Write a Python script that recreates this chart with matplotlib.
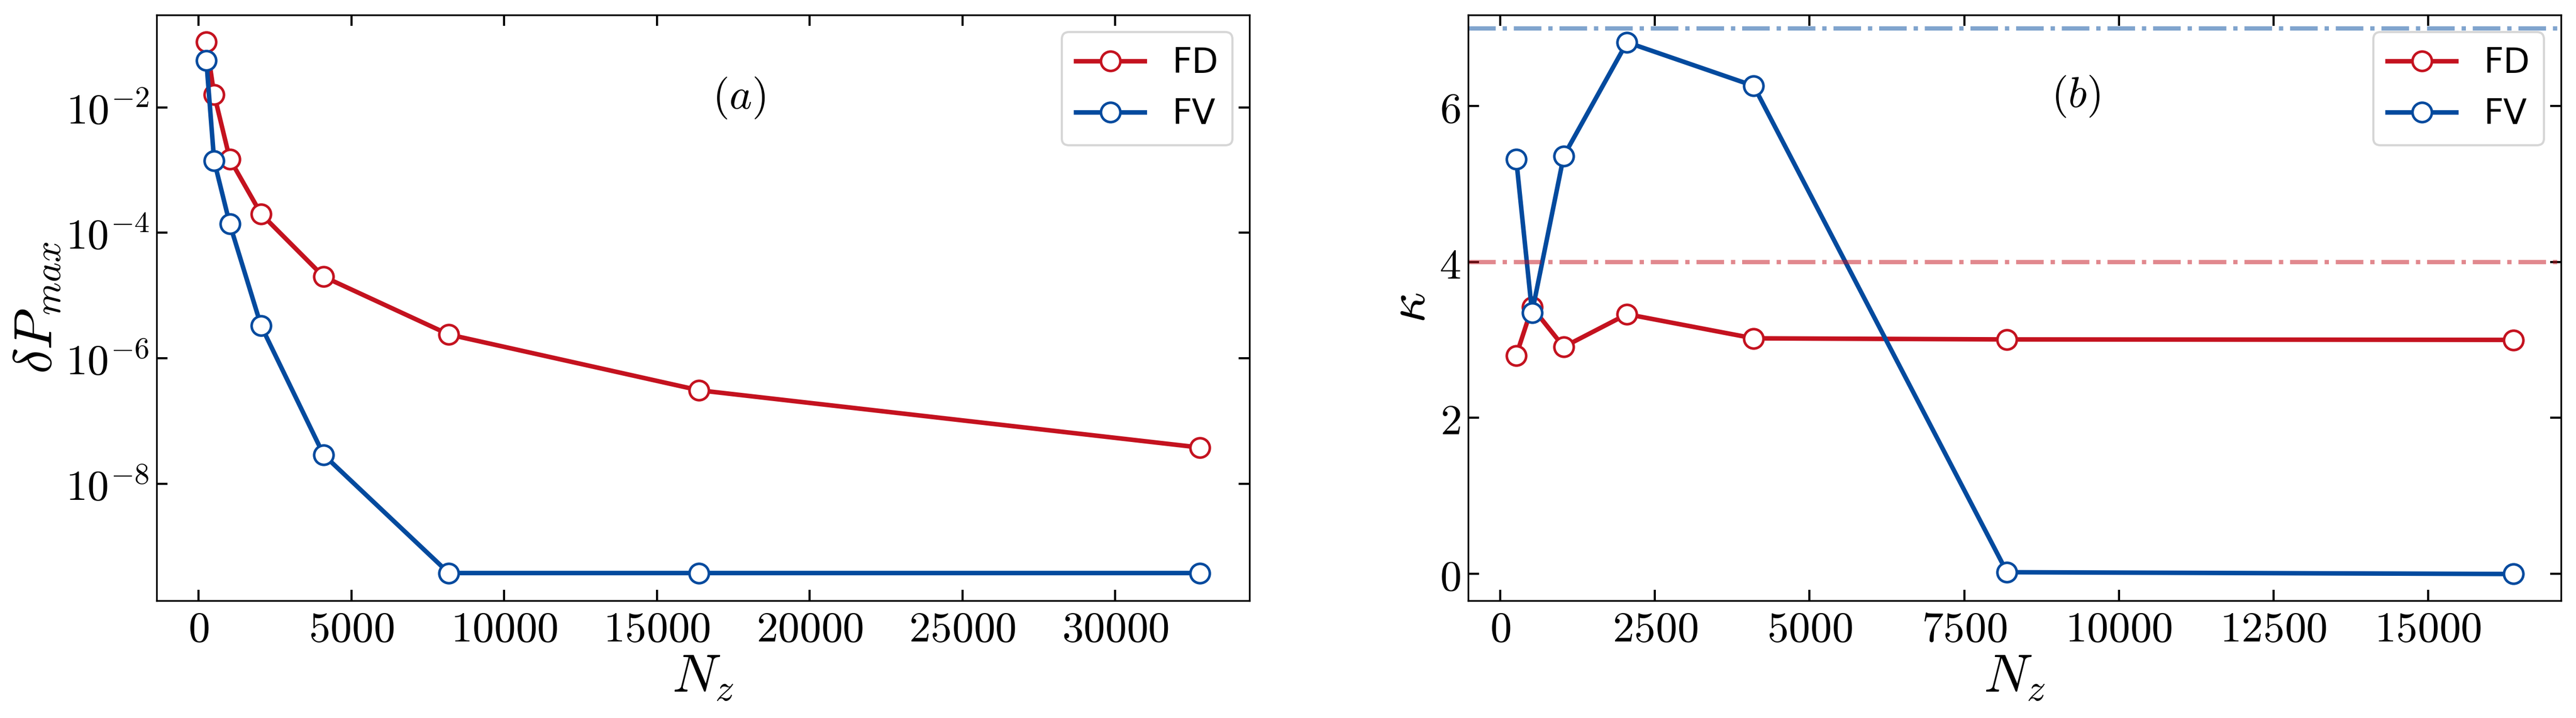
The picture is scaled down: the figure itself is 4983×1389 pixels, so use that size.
import matplotlib
matplotlib.use("Agg")
import matplotlib.pyplot as plt
from matplotlib.ticker import FuncFormatter, LogLocator, NullLocator, MultipleLocator
import numpy as np

plt.rcParams['mathtext.fontset'] = 'cm'

# ---- data ----
nz_a = [256, 512, 1024, 2048, 4096, 8192, 16384, 32768]
dp_fd = [0.11, 0.016, 1.5e-3, 2.0e-4, 2.0e-5, 2.4e-6, 3.1e-7, 3.8e-8]
dp_fv = [0.056, 1.4e-3, 1.38e-4, 3.3e-6, 2.9e-8, 3.8e-10, 3.8e-10, 3.8e-10]

nz_b = [256, 512, 1024, 2048, 4096, 8192, 16384]
k_fd = [2.80, 3.42, 2.91, 3.33, 3.02, 3.006, 3.00]
k_fv = [5.32, 3.35, 5.36, 6.82, 6.26, 0.018, -0.005]
k_ref_fd = 4.0
k_ref_fv = 7.0

RED = '#C4121F'
BLUE = '#034A9E'

fig = plt.figure(figsize=(4983/300, 1389/300), dpi=300)
ax1 = fig.add_axes([303/4983, 1 - 1162/1389, 2114/4983, 1133/1389])
ax2 = fig.add_axes([2840/4983, 1 - 1162/1389, 2114/4983, 1133/1389])

mk = dict(marker='o', markersize=9, markerfacecolor='white', markeredgewidth=1.2, lw=2.1)

ax1.plot(nz_a, dp_fd, color=RED, label=r'FD', **mk)
ax1.plot(nz_a, dp_fv, color=BLUE, label=r'FV', **mk)
ax1.set_yscale('log')
ax1.yaxis.set_major_locator(LogLocator(base=100.0))
ax1.yaxis.set_minor_locator(NullLocator())
ax1.yaxis.set_major_formatter(FuncFormatter(lambda v, p: r'$10^{%d}$' % int(round(np.log10(v)))))
ax1.set_ylim(10**-9.86, 10**-0.53)
ax1.set_xlim(-1370, 34394)
ax1.xaxis.set_major_locator(MultipleLocator(5000))
ax1.set_xlabel(r'$N_z$', fontsize=25)
ax1.set_ylabel(r'$\delta P_{max}$', fontsize=25)
ax1.xaxis.set_label_coords(0.5, -0.131)
ax1.yaxis.set_label_coords(-0.109, 0.5)
ax1.xaxis.label.set_va('center')
ax1.yaxis.label.set_va('center')
ax1.text(0.533, 0.858, r'$(a)$', transform=ax1.transAxes, fontsize=20, ha='center', va='center')

ax2.plot(nz_b, k_fd, color=RED, label=r'FD', **mk)
ax2.plot(nz_b, k_fv, color=BLUE, label=r'FV', **mk)
ax2.axhline(k_ref_fd, color=RED, alpha=0.5, lw=2, ls='-.')
ax2.axhline(k_ref_fv, color=BLUE, alpha=0.5, lw=2, ls='-.')
ax2.set_xlim(-521, 17150)
ax2.set_ylim(-0.347, 7.17)
ax2.xaxis.set_major_locator(MultipleLocator(2500))
ax2.yaxis.set_major_locator(MultipleLocator(2))
ax2.set_xlabel(r'$N_z$', fontsize=25)
ax2.set_ylabel(r'$\kappa$', fontsize=25)
ax2.xaxis.set_label_coords(0.5, -0.131)
ax2.yaxis.set_label_coords(-0.053, 0.5)
ax2.xaxis.label.set_va('center')
ax2.yaxis.label.set_va('center')
ax2.text(0.556, 0.861, r'$(b)$', transform=ax2.transAxes, fontsize=20, ha='center', va='center')

lin_fmt = FuncFormatter(lambda v, p: r'$%d$' % int(round(v)))
ax1.xaxis.set_major_formatter(lin_fmt)
ax2.xaxis.set_major_formatter(lin_fmt)
ax2.yaxis.set_major_formatter(lin_fmt)

for ax in (ax1, ax2):
    ax.tick_params(which='major', direction='in', top=True, right=True,
                   length=5, width=1.0, labelsize=20)
    ax.tick_params(which='minor', length=0)
    for s in ax.spines.values():
        s.set_linewidth(0.8)
    ax.legend(loc='upper right', fontsize=16)

fig.savefig('out.png', dpi=300)
